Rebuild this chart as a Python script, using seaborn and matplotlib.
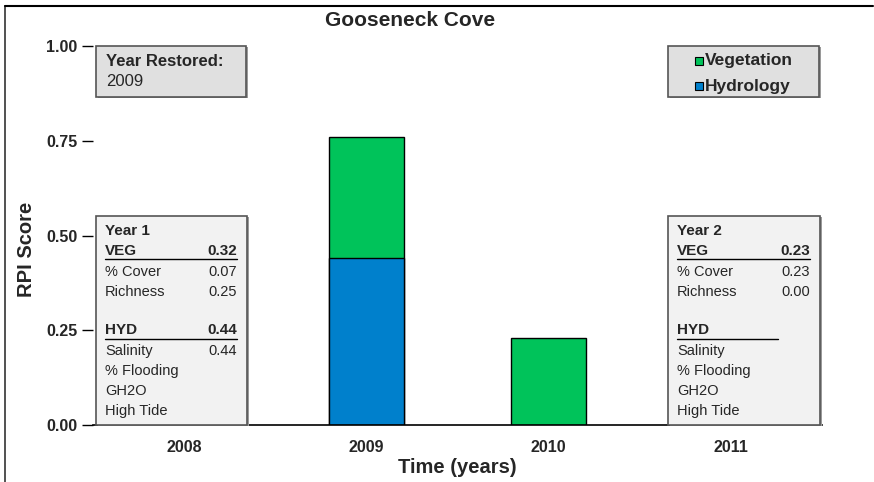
import matplotlib
matplotlib.use("Agg")
import matplotlib.pyplot as plt
from matplotlib.patches import Rectangle
from matplotlib.lines import Line2D
import seaborn as sns
import pandas as pd

# Restoration Performance Index scores per year
years = ["2008", "2009", "2010", "2011"]
scored_years = ["2009", "2010"]
veg_scores = [0.32, 0.23]
hyd_scores = [0.44, 0.0]

year1_veg = "0.32"
year1_rows = [("% Cover", "0.07"), ("Richness", "0.25")]
year1_hyd = "0.44"
year1_hyd_rows = [("Salinity", "0.44"), ("% Flooding", ""), ("GH2O", ""), ("High Tide", "")]

year2_veg = "0.23"
year2_rows = [("% Cover", "0.23"), ("Richness", "0.00")]
year2_hyd = ""
year2_hyd_rows = [("Salinity", ""), ("% Flooding", ""), ("GH2O", ""), ("High Tide", "")]

GREEN = "#00C35A"
BLUE = "#0080CC"

sns.set_style("white")
plt.rcParams["font.family"] = ["Liberation Sans", "DejaVu Sans"]

W, H = 874, 482
fig = plt.figure(figsize=(W / 100, H / 100), dpi=100)
AX_L, AX_R, AX_T, AX_B = 93, 822, 46, 425
ax = fig.add_axes([AX_L / W, 1 - AX_B / H, (AX_R - AX_L) / W, (AX_B - AX_T) / H])

df = pd.DataFrame({
    "year": scored_years,
    "total": [v + h for v, h in zip(veg_scores, hyd_scores)],
    "hyd": hyd_scores,
})
sns.barplot(data=df, x="year", y="total", order=years, color=GREEN,
            width=0.41, edgecolor="black", linewidth=1.0, saturation=1, ax=ax)
sns.barplot(data=df[df["hyd"] > 0], x="year", y="hyd", order=years, color=BLUE,
            width=0.41, edgecolor="black", linewidth=1.0, saturation=1, ax=ax)

ax.set_xlim(-0.5, 3.5)
ax.set_ylim(0, 1.0)
ax.set_yticks([0, 0.25, 0.5, 0.75, 1.0])
ax.set_yticklabels(["0.00", "0.25", "0.50", "0.75", "1.00"], fontweight="bold", fontsize=11.5)
ax.set_xticks([0, 1, 2, 3])
ax.set_xticklabels(years, fontweight="bold", fontsize=11.5)
ax.set_xticks([-0.5, 0.5, 1.5, 2.5, 3.5], minor=True)
ax.tick_params(axis="x", which="major", length=0, pad=11)
ax.tick_params(axis="x", which="minor", direction="out", length=5, width=1, color="black")
ax.tick_params(axis="y", direction="out", length=8, width=1, color="black", pad=3, left=True)
for s in ["top", "right", "left"]:
    ax.spines[s].set_visible(False)
ax.spines["bottom"].set_color("black")
ax.spines["bottom"].set_linewidth(1.2)
ax.set_xlabel("Time (years)", fontsize=14.5, fontweight="bold", labelpad=2)
ax.set_ylabel("RPI Score", fontsize=14.5, fontweight="bold")
ax.yaxis.set_label_coords((36 - AX_L) / (AX_R - AX_L), (AX_B - 249) / (AX_B - AX_T))

fig.text(410 / W, 1 - 21 / H, "Gooseneck Cove", ha="center", va="center",
         fontsize=15, fontweight="bold")

# outer frame on top and left
fig.add_artist(Line2D([5 / W, 5 / W], [0, 1 - 6 / H], transform=fig.transFigure,
                      color="#333333", lw=1.2))
fig.add_artist(Line2D([5 / W, 873 / W], [1 - 6 / H, 1 - 6 / H], transform=fig.transFigure,
                      color="black", lw=1.5))


def fx(px):
    return px / W


def fy(py):
    return 1 - py / H


def panel(x0, y0, x1, y1, face):
    fig.add_artist(Rectangle((fx(x0 + 2), fy(y1 + 1)), fx(x1 - x0), (y1 - y0) / H,
                             transform=fig.transFigure, facecolor="#9a9a9a",
                             edgecolor="none", zorder=3))
    fig.add_artist(Rectangle((fx(x0), fy(y1)), fx(x1 - x0), (y1 - y0) / H,
                             transform=fig.transFigure, facecolor=face,
                             edgecolor="#555555", lw=1.2, zorder=4))


def txt(px, py, s, **kw):
    kw.setdefault("fontsize", 10.5)
    fig.text(fx(px), fy(py), s, va="center", zorder=5, **kw)


def uline(x0, x1, py):
    fig.add_artist(Line2D([fx(x0), fx(x1)], [fy(py), fy(py)], transform=fig.transFigure,
                          color="black", lw=1.0, zorder=5))


# Year restored panel
panel(96, 46, 246, 97, "#e0e0e0")
txt(106, 61, "Year Restored:", fontweight="bold", fontsize=12)
txt(106, 81, "2009", fontsize=12)

# legend panel
panel(668, 46, 819, 97, "#e0e0e0")
for py, col, lab in [(61, GREEN, "Vegetation"), (86, BLUE, "Hydrology")]:
    fig.add_artist(Rectangle((fx(695), fy(py + 4)), fx(8), 8 / H, transform=fig.transFigure,
                             facecolor=col, edgecolor="black", lw=0.8, zorder=5))
    txt(705, py, lab, fontweight="bold", fontsize=12.5)


def score_panel(x0, x1, title, veg, rows, hyd, hyd_rows, hyd_line_end):
    panel(x0, 216, x1, 425, "#f2f2f2")
    lx = x0 + 9
    rx = x1 - 10
    bold = dict(fontweight="bold", fontsize=11)
    txt(lx, 231, title, **bold)
    txt(lx, 251, "VEG", **bold)
    txt(rx, 251, veg, ha="right", **bold)
    uline(lx, rx, 259)
    for i, (name, val) in enumerate(rows):
        py = 272 + 20 * i
        txt(lx, py, name)
        if val:
            txt(rx, py, val, ha="right")
    txt(lx, 330, "HYD", **bold)
    if hyd:
        txt(rx, 330, hyd, ha="right", **bold)
    uline(lx, hyd_line_end, 339)
    for i, (name, val) in enumerate(hyd_rows):
        py = 351 + 20 * i
        txt(lx, py, name)
        if val:
            txt(rx, py, val, ha="right")


score_panel(96, 247, "Year 1", year1_veg, year1_rows, year1_hyd, year1_hyd_rows, 237)
score_panel(668, 820, "Year 2", year2_veg, year2_rows, year2_hyd, year2_hyd_rows, 778)

fig.savefig("out.png", dpi=100)
